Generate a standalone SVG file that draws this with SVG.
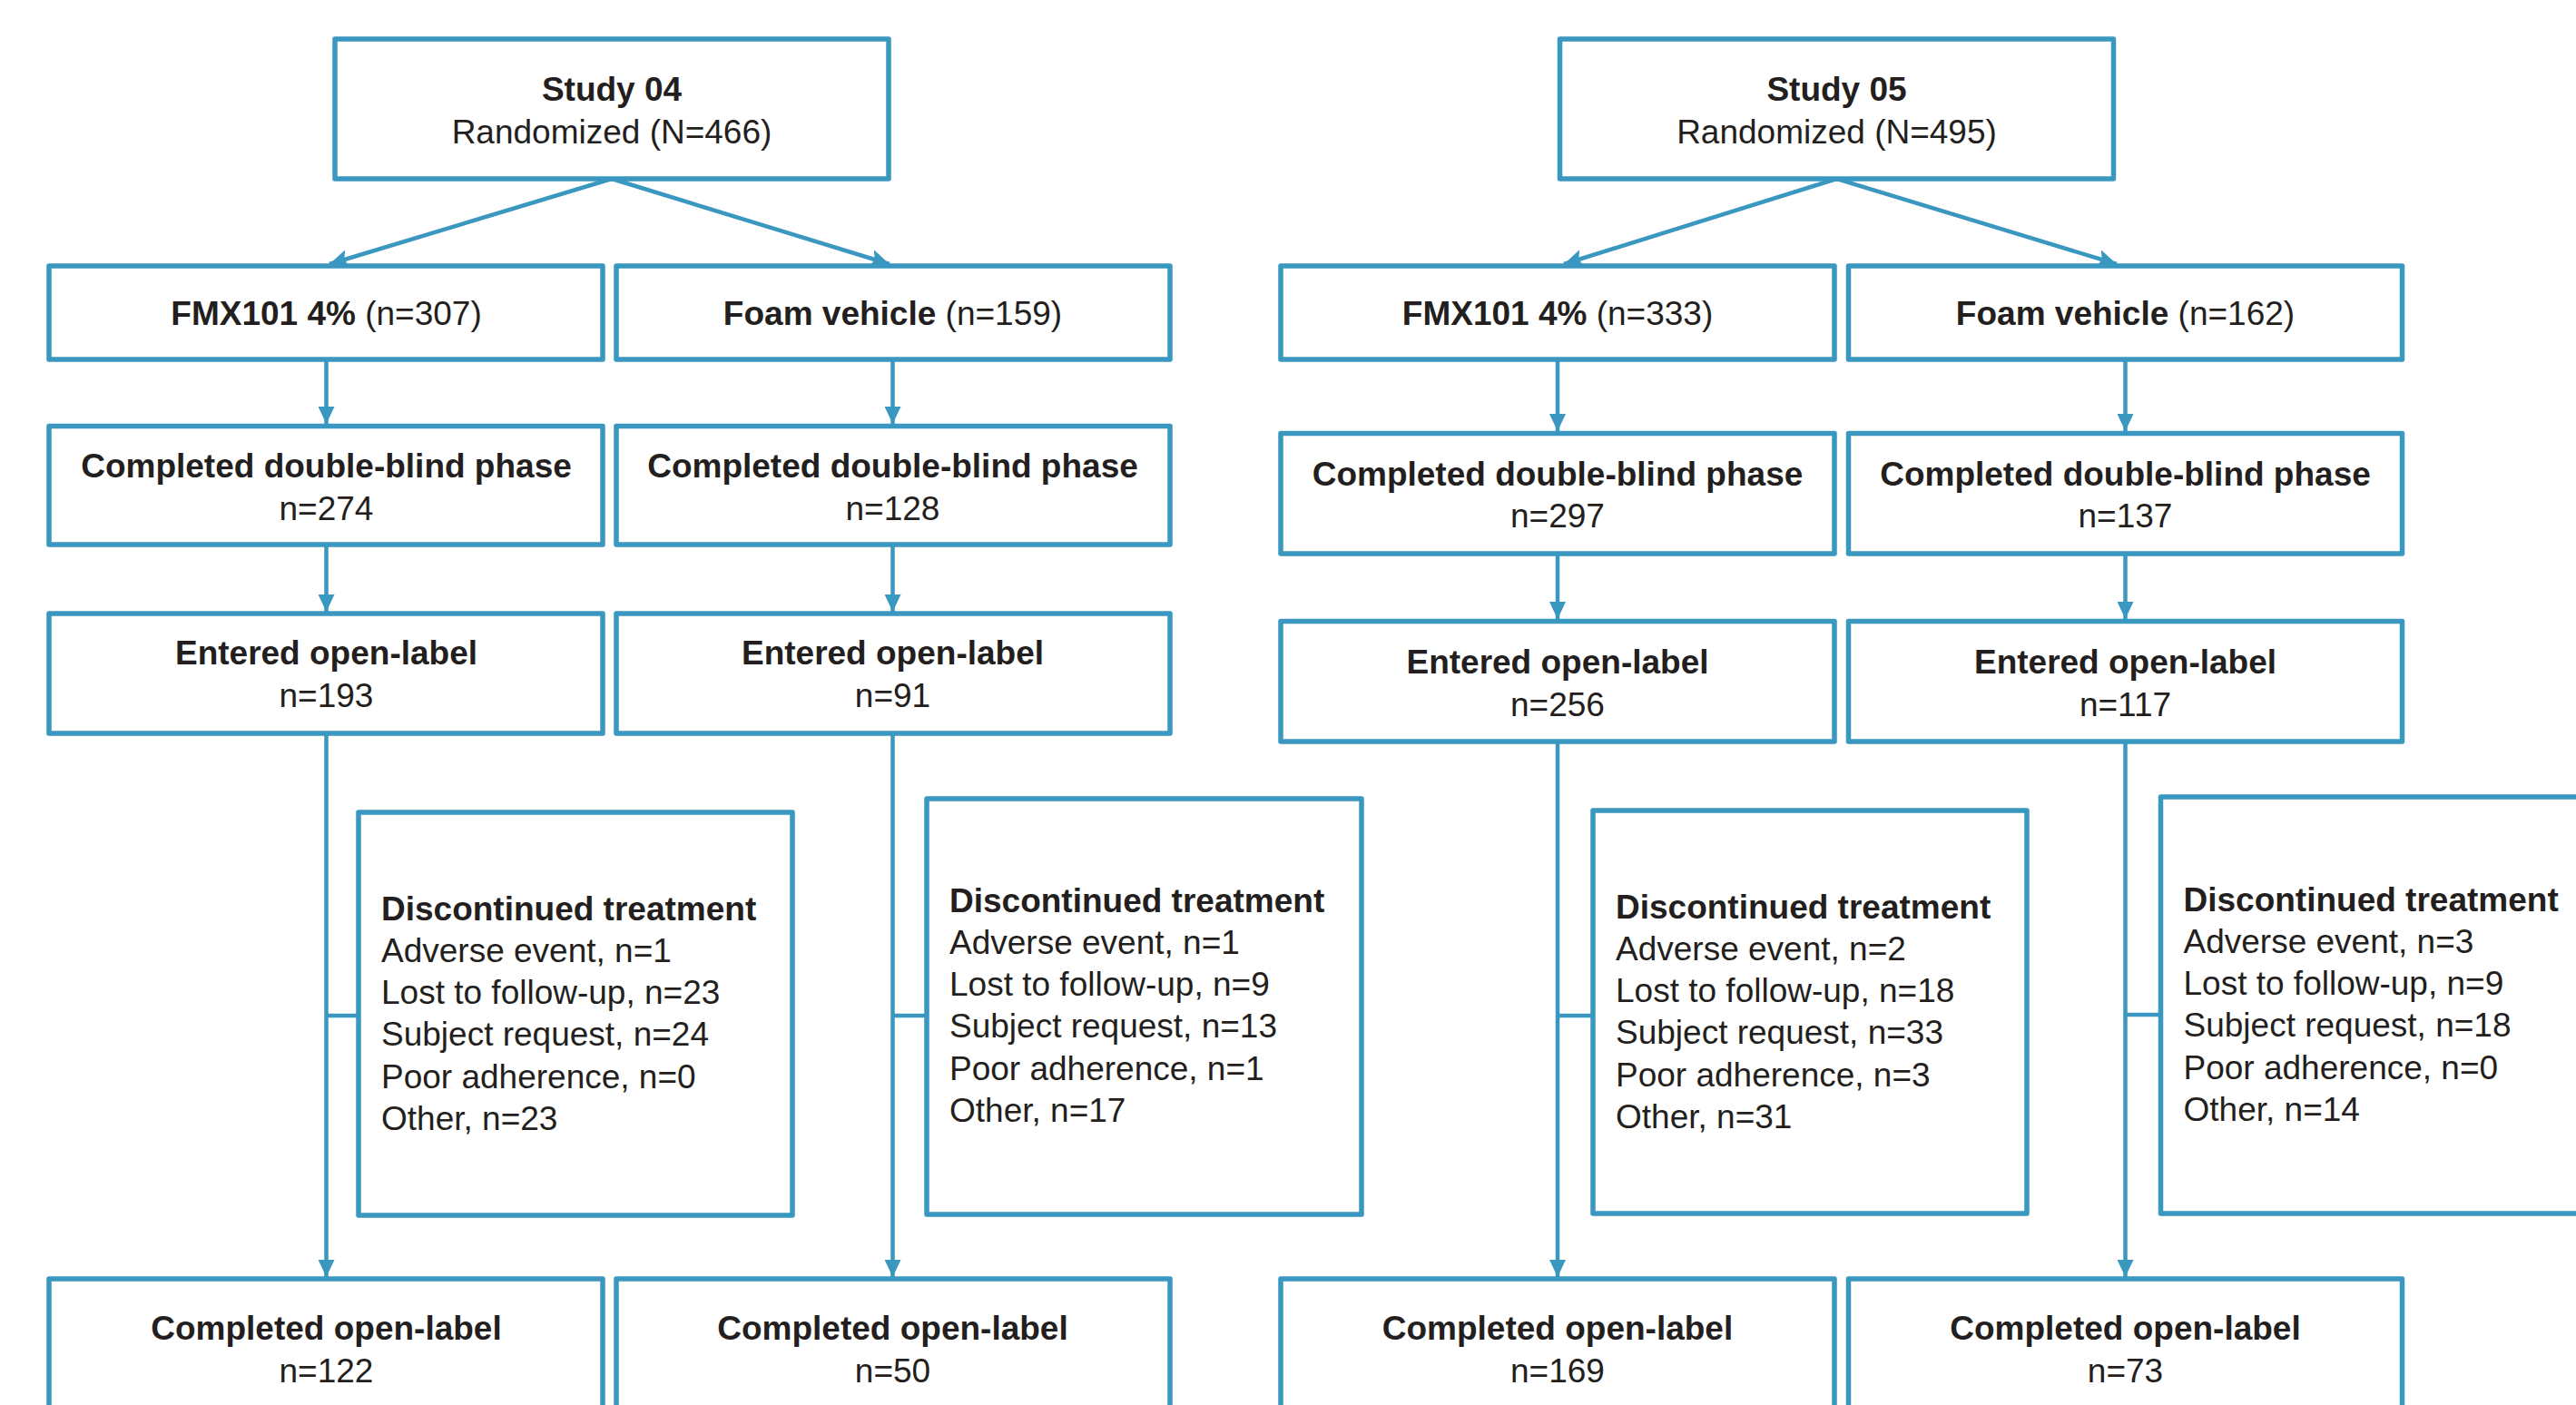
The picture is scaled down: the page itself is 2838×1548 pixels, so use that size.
<svg xmlns="http://www.w3.org/2000/svg" width="2838" height="1548" viewBox="0 0 2838 1548">
<style>
.box{fill:#fff;stroke:#3997c0;stroke-width:5.5;stroke-linejoin:round}
.ln{fill:none;stroke:#3997c0;stroke-width:4.5}
text{font-family:"Liberation Sans",Arial,sans-serif;font-size:37px;fill:#231f20}
.c{text-anchor:middle}
.b{font-weight:bold}
</style>
<defs>
<marker id="ah" markerUnits="userSpaceOnUse" markerWidth="20" markerHeight="18" refX="19" refY="9" orient="auto">
<path d="M0,0 L19,9 L0,18 z" fill="#3997c0"/>
</marker>
<marker id="ahd" markerUnits="userSpaceOnUse" markerWidth="22" markerHeight="20" refX="21" refY="10" orient="auto">
<path d="M0,0 L21,10 L0,20 L4,10 z" fill="#3997c0"/>
</marker>
</defs>
<rect width="2838" height="1548" fill="#fff"/>

<g id="connectors">
<line class="ln" x1="674" y1="197" x2="363" y2="291" marker-end="url(#ahd)"/>
<line class="ln" x1="674" y1="197" x2="980" y2="291" marker-end="url(#ahd)"/>
<line class="ln" x1="2023.5" y1="197" x2="1723" y2="291" marker-end="url(#ahd)"/>
<line class="ln" x1="2023.5" y1="197" x2="2332" y2="291" marker-end="url(#ahd)"/>

<line class="ln" x1="359.5" y1="396" x2="359.5" y2="467" marker-end="url(#ah)"/>
<line class="ln" x1="359.5" y1="600" x2="359.5" y2="674" marker-end="url(#ah)"/>
<line class="ln" x1="359.5" y1="808" x2="359.5" y2="1407" marker-end="url(#ah)"/>
<line class="ln" x1="983.5" y1="396" x2="983.5" y2="467" marker-end="url(#ah)"/>
<line class="ln" x1="983.5" y1="600" x2="983.5" y2="674" marker-end="url(#ah)"/>
<line class="ln" x1="983.5" y1="808" x2="983.5" y2="1407" marker-end="url(#ah)"/>
<line class="ln" x1="1716" y1="396" x2="1716" y2="475" marker-end="url(#ah)"/>
<line class="ln" x1="1716" y1="610" x2="1716" y2="682" marker-end="url(#ah)"/>
<line class="ln" x1="1716" y1="817" x2="1716" y2="1407" marker-end="url(#ah)"/>
<line class="ln" x1="2341.5" y1="396" x2="2341.5" y2="475" marker-end="url(#ah)"/>
<line class="ln" x1="2341.5" y1="610" x2="2341.5" y2="682" marker-end="url(#ah)"/>
<line class="ln" x1="2341.5" y1="817" x2="2341.5" y2="1407" marker-end="url(#ah)"/>

<line class="ln" x1="359.5" y1="1119" x2="395" y2="1119"/>
<line class="ln" x1="983.5" y1="1119" x2="1021" y2="1119"/>
<line class="ln" x1="1716" y1="1119" x2="1755" y2="1119"/>
<line class="ln" x1="2341.5" y1="1118" x2="2380.5" y2="1118"/>
</g>

<g id="study04">
<rect class="box" x="369" y="43" width="610" height="154"/>
<text class="c b" x="674" y="111">Study 04</text>
<text class="c" x="674" y="158">Randomized (N=466)</text>
</g>
<g id="study05">
<rect class="box" x="1718.5" y="43" width="610" height="154"/>
<text class="c b" x="2023.5" y="111">Study 05</text>
<text class="c" x="2023.5" y="158">Randomized (N=495)</text>
</g>

<g id="fmx04">
<rect class="box" x="54" y="293" width="610" height="103"/>
<text class="c" x="359.5" y="358"><tspan class="b">FMX101 4%</tspan> (n=307)</text>
</g>
<g id="foam04">
<rect class="box" x="679" y="293" width="610" height="103"/>
<text class="c" x="983.5" y="358"><tspan class="b">Foam vehicle</tspan> (n=159)</text>
</g>
<g id="fmx05">
<rect class="box" x="1411" y="293" width="610" height="103"/>
<text class="c" x="1716" y="358"><tspan class="b">FMX101 4%</tspan> (n=333)</text>
</g>
<g id="foam05">
<rect class="box" x="2036.5" y="293" width="610" height="103"/>
<text class="c" x="2341.5" y="358"><tspan class="b">Foam vehicle</tspan> (n=162)</text>
</g>

<g id="cdb04a">
<rect class="box" x="54" y="469.5" width="610" height="130.5"/>
<text class="c b" x="359.5" y="526">Completed double-blind phase</text>
<text class="c" x="359.5" y="573">n=274</text>
</g>
<g id="cdb04b">
<rect class="box" x="679" y="469.5" width="610" height="130.5"/>
<text class="c b" x="983.5" y="526">Completed double-blind phase</text>
<text class="c" x="983.5" y="573">n=128</text>
</g>
<g id="cdb05a">
<rect class="box" x="1411" y="477.5" width="610" height="132.5"/>
<text class="c b" x="1716" y="534.5">Completed double-blind phase</text>
<text class="c" x="1716" y="581">n=297</text>
</g>
<g id="cdb05b">
<rect class="box" x="2036.5" y="477.5" width="610" height="132.5"/>
<text class="c b" x="2341.5" y="534.5">Completed double-blind phase</text>
<text class="c" x="2341.5" y="581">n=137</text>
</g>

<g id="eol04a">
<rect class="box" x="54" y="676" width="610" height="132"/>
<text class="c b" x="359.5" y="732">Entered open-label</text>
<text class="c" x="359.5" y="779">n=193</text>
</g>
<g id="eol04b">
<rect class="box" x="679" y="676" width="610" height="132"/>
<text class="c b" x="983.5" y="732">Entered open-label</text>
<text class="c" x="983.5" y="779">n=91</text>
</g>
<g id="eol05a">
<rect class="box" x="1411" y="684.5" width="610" height="132.5"/>
<text class="c b" x="1716" y="741.5">Entered open-label</text>
<text class="c" x="1716" y="788.5">n=256</text>
</g>
<g id="eol05b">
<rect class="box" x="2036.5" y="684.5" width="610" height="132.5"/>
<text class="c b" x="2341.5" y="741.5">Entered open-label</text>
<text class="c" x="2341.5" y="788.5">n=117</text>
</g>

<g id="disc04a">
<rect class="box" x="395" y="895" width="478" height="444"/>
<text class="b" x="420" y="1014">Discontinued treatment</text>
<text x="420" y="1060">Adverse event, n=1</text>
<text x="420" y="1106">Lost to follow-up, n=23</text>
<text x="420" y="1152">Subject request, n=24</text>
<text x="420" y="1199">Poor adherence, n=0</text>
<text x="420" y="1245">Other, n=23</text>
</g>
<g id="disc04b">
<rect class="box" x="1021" y="880" width="479" height="458"/>
<text class="b" x="1046" y="1005">Discontinued treatment</text>
<text x="1046" y="1051">Adverse event, n=1</text>
<text x="1046" y="1097">Lost to follow-up, n=9</text>
<text x="1046" y="1143">Subject request, n=13</text>
<text x="1046" y="1190">Poor adherence, n=1</text>
<text x="1046" y="1236">Other, n=17</text>
</g>
<g id="disc05a">
<rect class="box" x="1755" y="893" width="478" height="444"/>
<text class="b" x="1780" y="1012">Discontinued treatment</text>
<text x="1780" y="1058">Adverse event, n=2</text>
<text x="1780" y="1104">Lost to follow-up, n=18</text>
<text x="1780" y="1150">Subject request, n=33</text>
<text x="1780" y="1197">Poor adherence, n=3</text>
<text x="1780" y="1243">Other, n=31</text>
</g>
<g id="disc05b">
<rect class="box" x="2380.5" y="878" width="540" height="459"/>
<text class="b" x="2405.5" y="1004">Discontinued treatment</text>
<text x="2405.5" y="1050">Adverse event, n=3</text>
<text x="2405.5" y="1096">Lost to follow-up, n=9</text>
<text x="2405.5" y="1142">Subject request, n=18</text>
<text x="2405.5" y="1189">Poor adherence, n=0</text>
<text x="2405.5" y="1235">Other, n=14</text>
</g>

<g id="col04a">
<rect class="box" x="54" y="1409" width="610" height="200"/>
<text class="c b" x="359.5" y="1476">Completed open-label</text>
<text class="c" x="359.5" y="1523">n=122</text>
</g>
<g id="col04b">
<rect class="box" x="679" y="1409" width="610" height="200"/>
<text class="c b" x="983.5" y="1476">Completed open-label</text>
<text class="c" x="983.5" y="1523">n=50</text>
</g>
<g id="col05a">
<rect class="box" x="1411" y="1409" width="610" height="200"/>
<text class="c b" x="1716" y="1476">Completed open-label</text>
<text class="c" x="1716" y="1523">n=169</text>
</g>
<g id="col05b">
<rect class="box" x="2036.5" y="1409" width="610" height="200"/>
<text class="c b" x="2341.5" y="1476">Completed open-label</text>
<text class="c" x="2341.5" y="1523">n=73</text>
</g>
</svg>
